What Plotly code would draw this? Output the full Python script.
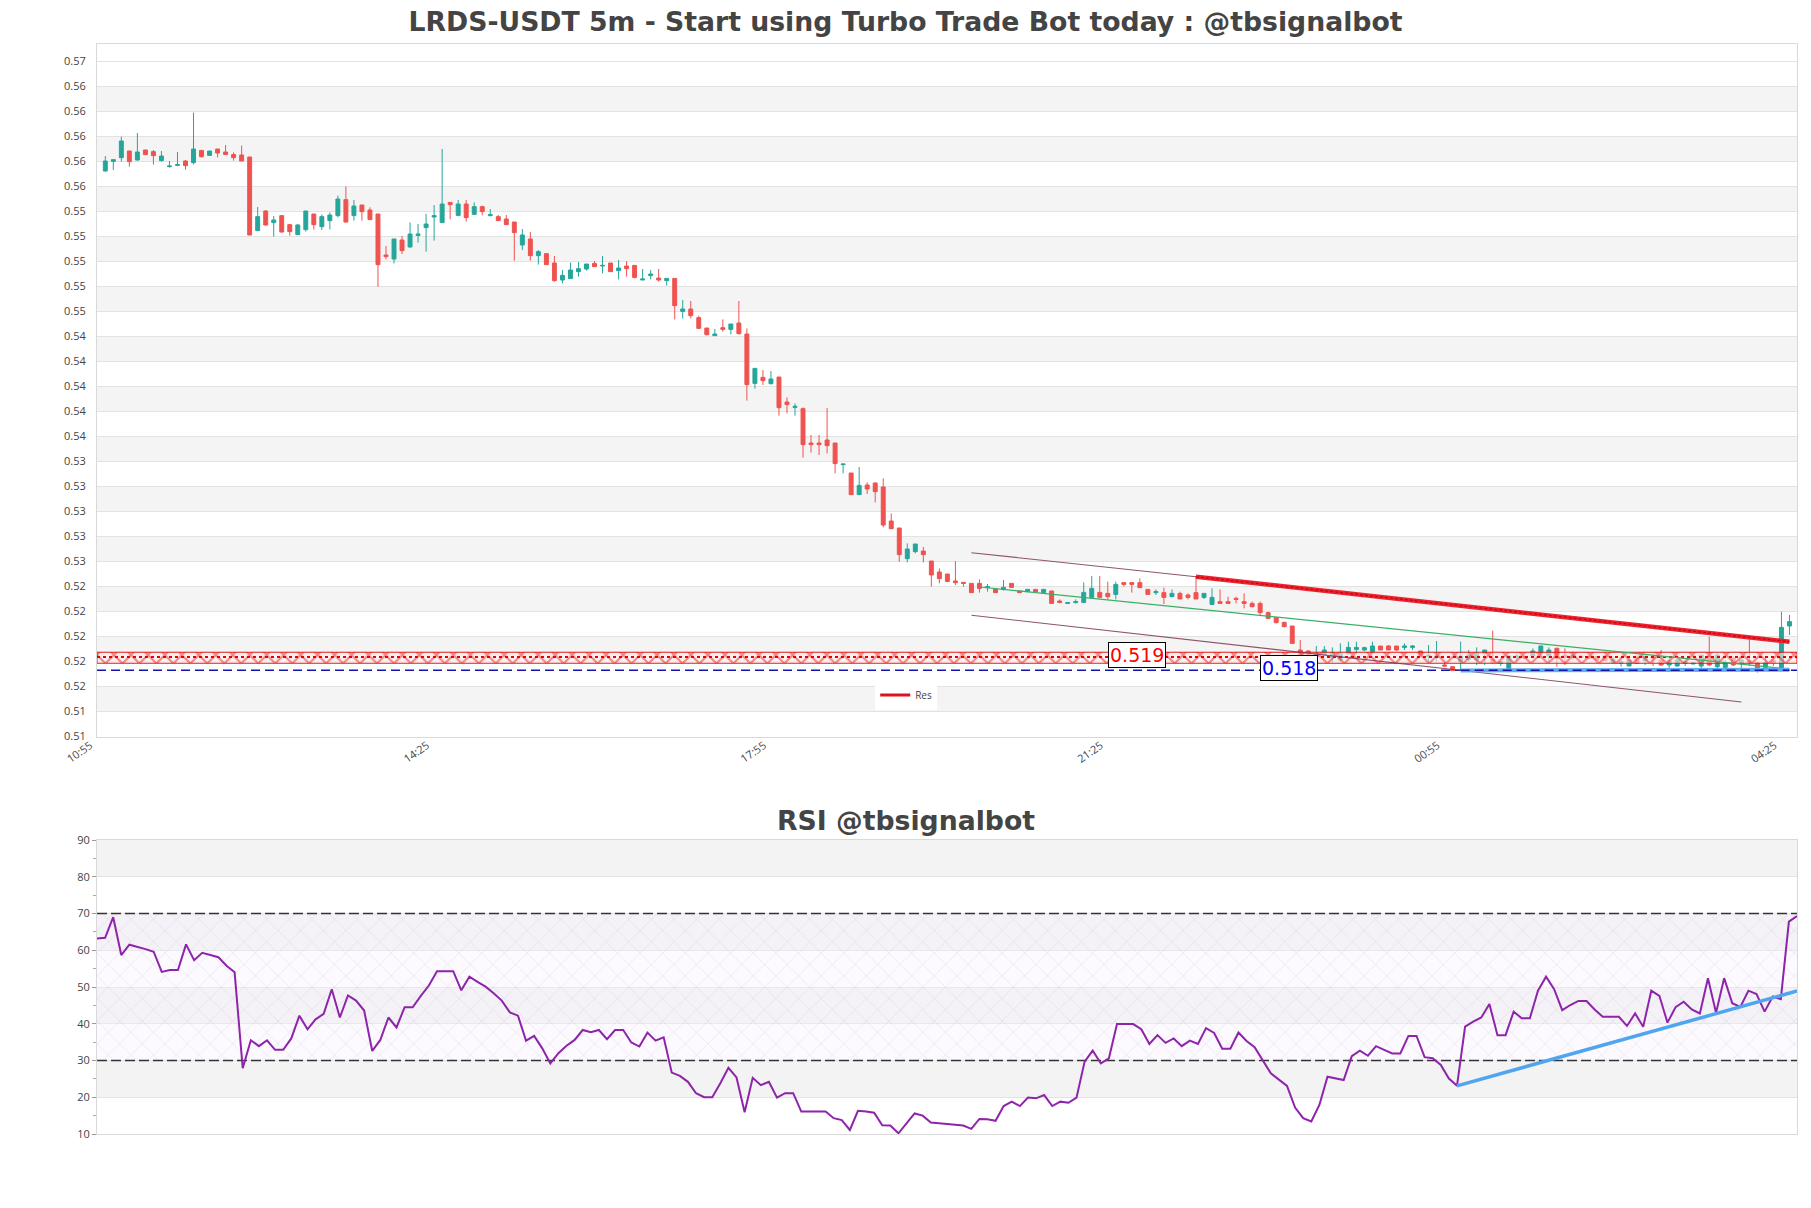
import pandas as pd
import plotly.graph_objects as go

# ---------------- data ----------------
start = pd.Timestamp("2024-05-20 10:55")
n_candles = 211
times = pd.date_range(start, periods=n_candles, freq="5min")

opens = [0.55808,0.55885,0.55915,0.55968,0.55896,0.55976,0.55963,0.55891,0.55843,0.55853,
0.55888,0.55875,0.55973,0.55933,0.55984,0.55960,0.55939,0.55936,0.55920,0.55331,
0.55488,0.55395,0.55451,0.55379,0.55299,0.55339,0.55464,0.55363,0.55411,0.55451,
0.55579,0.55451,0.55536,0.55496,0.55464,0.55136,0.55104,0.55256,0.55200,0.55293,
0.55355,0.55440,0.55395,0.55557,0.55453,0.55544,0.55461,0.55523,0.55451,0.55443,
0.55424,0.55400,0.55216,0.55264,0.55131,0.55147,0.55072,0.54936,0.54947,0.55003,
0.55024,0.55069,0.55048,0.55072,0.55011,0.55048,0.55053,0.54936,0.54971,0.54952,
0.54931,0.54949,0.54685,0.54704,0.54635,0.54552,0.54491,0.54555,0.54541,0.54592,
0.54504,0.54109,0.54157,0.54107,0.54160,0.53960,0.53917,0.53907,0.53632,0.53632,
0.53656,0.53632,0.53459,0.53392,0.53219,0.53296,0.53312,0.53280,0.53008,0.52952,
0.52707,0.52763,0.52768,0.52688,0.52600,0.52584,0.52528,0.52517,0.52509,0.52509,
0.52475,0.52464,0.52461,0.52509,0.52448,0.52443,0.52461,0.52435,0.52448,0.52368,
0.52349,0.52355,0.52357,0.52397,0.52437,0.52429,0.52421,0.52515,0.52515,0.52515,
0.52461,0.52435,0.52435,0.52403,0.52429,0.52416,0.52435,0.52397,0.52341,0.52363,
0.52363,0.52389,0.52363,0.52349,0.52349,0.52275,0.52235,0.52197,0.52168,0.51976,
0.51968,0.51928,0.51936,0.51917,0.51896,0.51949,0.51981,0.51976,0.51963,0.52008,
0.52008,0.52008,0.51997,0.51997,0.51968,0.51923,0.51917,0.51856,0.51843,0.51883,
0.51901,0.51896,0.51949,0.51901,0.51869,0.51829,0.51917,0.51923,0.51928,0.51955,
0.51928,0.51989,0.51936,0.51917,0.51928,0.51923,0.51923,0.51928,0.51875,0.51869,
0.51848,0.51917,0.51891,0.51923,0.51896,0.51856,0.51848,0.51869,0.51864,0.51848,
0.51923,0.51843,0.51837,0.51909,0.51869,0.51891,0.51875,0.51837,0.51891,0.51829,
0.52168]
highs = [0.55928,0.55901,0.56083,0.55968,0.56112,0.55976,0.55976,0.55968,0.55888,0.55960,
0.55896,0.56275,0.55973,0.55968,0.55984,0.56016,0.55957,0.56011,0.55920,0.55520,
0.55496,0.55448,0.55453,0.55379,0.55384,0.55488,0.55464,0.55461,0.55477,0.55611,
0.55685,0.55576,0.55536,0.55517,0.55464,0.55208,0.55264,0.55288,0.55397,0.55384,
0.55464,0.55536,0.55984,0.55557,0.55576,0.55576,0.55557,0.55531,0.55504,0.55456,
0.55456,0.55400,0.55344,0.55320,0.55176,0.55147,0.55128,0.55016,0.55075,0.55080,
0.55064,0.55088,0.55128,0.55072,0.55096,0.55088,0.55053,0.55024,0.55016,0.55024,
0.54949,0.54949,0.54776,0.54768,0.54651,0.54552,0.54544,0.54621,0.54584,0.54768,
0.54549,0.54229,0.54216,0.54208,0.54160,0.53997,0.53949,0.53917,0.53696,0.53696,
0.53912,0.53632,0.53464,0.53392,0.53440,0.53317,0.53317,0.53349,0.53069,0.52952,
0.52829,0.52824,0.52800,0.52688,0.52629,0.52584,0.52688,0.52517,0.52509,0.52541,
0.52504,0.52469,0.52536,0.52509,0.52448,0.52461,0.52461,0.52461,0.52448,0.52381,
0.52355,0.52381,0.52517,0.52568,0.52568,0.52523,0.52523,0.52515,0.52515,0.52549,
0.52461,0.52461,0.52475,0.52461,0.52443,0.52429,0.52568,0.52429,0.52469,0.52461,
0.52403,0.52403,0.52429,0.52363,0.52363,0.52283,0.52235,0.52203,0.52168,0.52056,
0.51976,0.52008,0.52008,0.51997,0.52029,0.52043,0.52043,0.52003,0.52043,0.52008,
0.52016,0.52008,0.52029,0.52016,0.51968,0.52016,0.52048,0.51883,0.51843,0.52043,
0.51976,0.51997,0.51976,0.52131,0.51883,0.51928,0.51949,0.51923,0.51989,0.52008,
0.51997,0.51997,0.51989,0.51963,0.51928,0.51923,0.51923,0.51936,0.51923,0.51901,
0.51917,0.51936,0.51936,0.51949,0.51976,0.51909,0.51901,0.51901,0.51875,0.51936,
0.52083,0.51949,0.51896,0.51923,0.51909,0.52083,0.51875,0.51923,0.51909,0.52283,
0.52256]
lows = [0.55803,0.55816,0.55883,0.55843,0.55891,0.55939,0.55859,0.55883,0.55835,0.55853,
0.55819,0.55861,0.55915,0.55933,0.55917,0.55939,0.55891,0.55888,0.55296,0.55331,
0.55371,0.55283,0.55315,0.55291,0.55299,0.55323,0.55339,0.55336,0.55341,0.55437,
0.55395,0.55411,0.55411,0.55419,0.54883,0.55101,0.55069,0.55144,0.55195,0.55235,
0.55163,0.55251,0.55395,0.55421,0.55445,0.55403,0.55459,0.55453,0.55445,0.55411,
0.55379,0.55091,0.55176,0.55091,0.55059,0.55059,0.54923,0.54909,0.54947,0.54963,
0.55011,0.55043,0.54989,0.55003,0.54941,0.54963,0.54949,0.54936,0.54941,0.54923,
0.54891,0.54621,0.54627,0.54629,0.54549,0.54491,0.54491,0.54523,0.54501,0.54501,
0.53971,0.54067,0.54096,0.54099,0.53851,0.53869,0.53851,0.53515,0.53555,0.53536,
0.53549,0.53389,0.53389,0.53219,0.53219,0.53224,0.53157,0.52957,0.52941,0.52683,
0.52677,0.52749,0.52677,0.52483,0.52509,0.52517,0.52496,0.52483,0.52435,0.52435,
0.52443,0.52435,0.52451,0.52477,0.52435,0.52443,0.52435,0.52435,0.52344,0.52349,
0.52349,0.52349,0.52357,0.52397,0.52389,0.52381,0.52381,0.52483,0.52435,0.52475,
0.52416,0.52416,0.52344,0.52397,0.52384,0.52381,0.52384,0.52384,0.52341,0.52349,
0.52349,0.52349,0.52309,0.52317,0.52256,0.52224,0.52189,0.52157,0.52024,0.51923,
0.51917,0.51883,0.51923,0.51875,0.51883,0.51936,0.51936,0.51968,0.51949,0.51976,
0.51976,0.51968,0.51976,0.51976,0.51936,0.51883,0.51883,0.51843,0.51811,0.51816,
0.51883,0.51856,0.51856,0.51869,0.51848,0.51829,0.51891,0.51909,0.51923,0.51909,
0.51883,0.51843,0.51856,0.51896,0.51917,0.51907,0.51896,0.51891,0.51864,0.51843,
0.51848,0.51864,0.51856,0.51848,0.51848,0.51829,0.51843,0.51848,0.51864,0.51829,
0.51848,0.51829,0.51829,0.51848,0.51829,0.51848,0.51795,0.51811,0.51848,0.51821,
0.52096]
closes = [0.55888,0.55899,0.56048,0.55883,0.55960,0.55939,0.55931,0.55928,0.55848,0.55859,
0.55851,0.55984,0.55923,0.55968,0.55952,0.55939,0.55915,0.55888,0.55296,0.55443,
0.55376,0.55416,0.55320,0.55323,0.55376,0.55488,0.55379,0.55443,0.55456,0.55584,
0.55400,0.55528,0.55483,0.55419,0.55059,0.55123,0.55264,0.55171,0.55304,0.55304,
0.55384,0.55451,0.55544,0.55539,0.55544,0.55435,0.55523,0.55483,0.55459,0.55411,
0.55379,0.55315,0.55296,0.55131,0.55163,0.55059,0.54931,0.54973,0.55016,0.55027,
0.55064,0.55043,0.55053,0.55003,0.55032,0.55027,0.54957,0.54944,0.54984,0.54936,
0.54949,0.54731,0.54704,0.54651,0.54549,0.54499,0.54504,0.54541,0.54584,0.54507,
0.54099,0.54229,0.54131,0.54144,0.53915,0.53939,0.53925,0.53619,0.53619,0.53619,
0.53611,0.53467,0.53464,0.53219,0.53293,0.53264,0.53243,0.52976,0.52947,0.52739,
0.52784,0.52824,0.52739,0.52576,0.52547,0.52525,0.52515,0.52509,0.52435,0.52469,
0.52483,0.52435,0.52477,0.52477,0.52435,0.52461,0.52443,0.52461,0.52349,0.52357,
0.52355,0.52363,0.52437,0.52469,0.52397,0.52403,0.52501,0.52501,0.52501,0.52475,
0.52421,0.52443,0.52397,0.52429,0.52384,0.52397,0.52384,0.52429,0.52397,0.52349,
0.52349,0.52381,0.52349,0.52323,0.52275,0.52229,0.52195,0.52163,0.52029,0.51923,
0.51923,0.51949,0.51976,0.51955,0.51949,0.51997,0.51997,0.51995,0.52008,0.51976,
0.51976,0.51976,0.52008,0.52008,0.51936,0.51936,0.51928,0.51848,0.51811,0.51928,
0.51936,0.51955,0.51976,0.51875,0.51883,0.51928,0.51928,0.51909,0.51968,0.52008,
0.51976,0.51909,0.51917,0.51936,0.51917,0.51907,0.51896,0.51891,0.51901,0.51883,
0.51896,0.51869,0.51923,0.51909,0.51856,0.51891,0.51896,0.51883,0.51875,0.51936,
0.51856,0.51936,0.51875,0.51856,0.51896,0.51875,0.51829,0.51875,0.51875,0.52157,
0.52203]

rsi = [63.2,63.4,69.0,58.7,61.5,61.0,60.3,59.6,54.1,54.6,
54.6,61.6,57.3,59.3,58.7,58.1,55.8,54.0,27.9,35.5,
33.9,35.5,32.9,32.9,36.0,42.2,38.5,41.2,42.7,49.4,
41.7,47.7,46.3,43.6,32.6,35.6,41.7,39.0,44.5,44.5,
47.6,50.4,54.3,54.3,54.3,49.1,52.8,51.4,50.1,48.3,
46.3,43.1,42.2,35.4,36.7,33.3,29.2,32.0,34.0,35.6,
38.3,37.7,38.3,35.8,38.3,38.3,34.9,33.8,37.6,35.4,
36.3,26.7,25.8,24.2,21.1,20.0,20.0,23.8,28.0,25.4,
15.9,25.3,23.3,24.2,19.9,21.1,21.1,16.1,16.1,16.1,
16.1,14.3,13.8,11.1,16.3,16.1,15.8,12.4,12.3,10.2,
12.9,15.6,15.0,13.1,12.9,12.7,12.4,12.3,11.4,14.1,
14.0,13.6,17.6,18.8,17.6,19.9,19.7,20.6,17.6,18.8,
18.5,19.9,29.7,32.7,29.2,30.6,39.9,39.9,39.9,38.5,
34.5,36.9,34.8,36.0,33.9,35.4,34.5,38.8,37.5,33.2,
33.2,37.6,35.3,33.6,29.9,26.5,24.8,23.1,17.2,14.3,
13.4,17.9,25.6,25.1,24.7,31.2,32.7,31.3,33.9,32.9,
31.9,31.9,36.7,36.7,30.9,30.6,28.8,25.1,23.1,39.2,
40.6,41.7,45.4,36.9,36.9,43.3,41.5,41.5,49.0,52.8,
49.4,43.7,45.1,46.2,46.2,43.9,41.9,41.9,41.9,39.4,
42.8,39.2,49.0,47.6,40.3,44.5,46.0,43.9,42.8,52.4,
43.0,52.4,45.6,44.6,49.0,48.1,43.3,47.4,46.7,67.8,
69.3]

# price axis ticks (labels shown with 2 decimals)
ytick0 = 0.56688
ydtick = 0.002
n_yticks = 28
price_range = [0.5128, 0.56824]
xtick_every = 42

# levels
res_level = 0.5192
res_band = [0.5187, 0.51958]
sup_level = 0.51814
res_label = "0.519"
sup_label = "0.518"

# trend lines: (start index, start value, end index, end value)
chan_upper = (108, 0.52754, 136, 0.52562)
chan_lower = (108, 0.52254, 204, 0.51560)
chan_mid = (109, 0.52480, 209, 0.51830)
res_trend = (136, 0.52562, 210, 0.52042)
sup_trend = (169, 0.51812, 210, 0.51818)
rsi_trend = (168, 23.1, 210, 48.9)
rsi_levels = [30, 70]

# ---------------- figure ----------------
FONT = "Open Sans"
TITLE_FONT = "DejaVu Sans"
step = pd.Timedelta(minutes=5)
x0 = times[0] - step * 1.035
x1 = times[-1] + step * 0.94

def tline(seg):
    i0, v0, i1, v1 = seg
    return [times[i0], times[i1]], [v0, v1]

fig = go.Figure()

# resistance band (hatched)
fig.add_trace(go.Scatter(
    x=[x0, x1, x1, x0, x0],
    y=[res_band[0], res_band[0], res_band[1], res_band[1], res_band[0]],
    mode="lines", fill="toself",
    line=dict(color="rgba(230,0,0,0.9)", width=1),
    fillcolor="rgba(255,225,225,0.5)",
    fillpattern=dict(shape="x", fgcolor="rgba(240,0,0,0.9)", bgcolor="rgba(255,235,235,0.6)",
                     size=12, solidity=0.3),
    showlegend=False, hoverinfo="skip", xaxis="x", yaxis="y"))
fig.add_trace(go.Scatter(x=[x0, x1], y=[res_level, res_level], mode="lines",
    line=dict(color="rgb(235,0,0)", width=2.2, dash="dot"),
    showlegend=False, hoverinfo="skip", xaxis="x", yaxis="y"))
fig.add_trace(go.Scatter(x=[x0, x1], y=[sup_level, sup_level], mode="lines",
    line=dict(color="rgb(20,20,170)", width=1.5, dash="9px,5px"),
    showlegend=False, hoverinfo="skip", xaxis="x", yaxis="y"))

fig.add_trace(go.Candlestick(
    x=times, open=opens, high=highs, low=lows, close=closes,
    increasing=dict(line=dict(color="#26a69a", width=1), fillcolor="#26a69a"),
    decreasing=dict(line=dict(color="#ef5350", width=1), fillcolor="#ef5350"),
    showlegend=False, xaxis="x", yaxis="y"))

for seg, col, w in [(chan_upper, "rgba(125,55,85,0.85)", 1.2),
                    (chan_lower, "rgba(125,55,85,0.85)", 1.2),
                    (chan_mid, "rgb(60,175,100)", 1.2),
                    (res_trend, "rgb(235,35,45)", 4.5),
                    (sup_trend, "rgb(95,170,240)", 4)]:
    xs, ys = tline(seg)
    fig.add_trace(go.Scatter(x=xs, y=ys, mode="lines", line=dict(color=col, width=w),
                             showlegend=False, hoverinfo="skip", xaxis="x", yaxis="y"))
# darker core of the resistance trend line
xs, ys = tline(res_trend)
fig.add_trace(go.Scatter(x=xs, y=ys, mode="lines",
    line=dict(color="rgb(200,0,20)", width=1.2, dash="3px,2px"),
    showlegend=False, hoverinfo="skip", xaxis="x", yaxis="y"))
# navy dashed drawn again over the support trend
fig.add_trace(go.Scatter(x=[times[sup_trend[0]], times[sup_trend[2]]], y=[sup_level, sup_level],
    mode="lines", line=dict(color="rgb(20,20,170)", width=1.5, dash="9px,5px"),
    showlegend=False, hoverinfo="skip", xaxis="x", yaxis="y"))

fig.add_trace(go.Scatter(x=[None], y=[None], mode="lines", name="Res",
    line=dict(color="rgb(220,20,30)", width=3), xaxis="x", yaxis="y"))

# RSI hatch zone
fig.add_trace(go.Scatter(x=[times[0], times[-1]], y=[rsi_levels[0]] * 2, mode="lines",
    line=dict(width=0), showlegend=False, hoverinfo="skip", xaxis="x2", yaxis="y2"))
fig.add_trace(go.Scatter(x=[times[0], times[-1]], y=[rsi_levels[1]] * 2, mode="lines",
    line=dict(width=0), fill="tonexty", fillcolor="rgba(0,0,0,0)",
    fillpattern=dict(shape="x", fgcolor="rgba(175,150,200,0.7)", bgcolor="rgba(245,240,250,0.35)",
                     size=16, solidity=0.06),
    showlegend=False, hoverinfo="skip", xaxis="x2", yaxis="y2"))
for lv in rsi_levels:
    fig.add_trace(go.Scatter(x=[times[0], times[-1]], y=[lv, lv], mode="lines",
        line=dict(color="#333", width=1.4, dash="10px,4px"),
        showlegend=False, hoverinfo="skip", xaxis="x2", yaxis="y2"))
fig.add_trace(go.Scatter(x=times, y=rsi, mode="lines",
    line=dict(color="rgb(142,36,170)", width=2),
    showlegend=False, xaxis="x2", yaxis="y2"))
xs, ys = tline(rsi_trend)
fig.add_trace(go.Scatter(x=xs, y=ys, mode="lines", line=dict(color="rgb(80,165,240)", width=3.5),
    showlegend=False, hoverinfo="skip", xaxis="x2", yaxis="y2"))

# alternating bands
yticks = [ytick0 - ydtick * i for i in range(n_yticks)]
shapes = []
for i in range(1, n_yticks - 1, 2):
    shapes.append(dict(type="rect", xref="x domain", yref="y", x0=0, x1=1,
                       y0=yticks[i + 1], y1=yticks[i], fillcolor="#f4f4f4",
                       line=dict(width=0), layer="below"))
for lo in [20, 40, 60, 80]:
    shapes.append(dict(type="rect", xref="x2 domain", yref="y2", x0=0, x1=1,
                       y0=lo, y1=lo + 10, fillcolor="#f3f3f3",
                       line=dict(width=0), layer="below"))

axis_line = "#d9d9d9"
grid = "#e3e3e3"
H = 1208
top, bot = 44, 74
plot_h = H - top - bot

def py(pixel_y):
    return (H - bot - pixel_y) / plot_h

fig.update_layout(
    width=1811, height=H,
    margin=dict(l=97, r=14, t=top, b=bot),
    paper_bgcolor="white", plot_bgcolor="white",
    font=dict(family=FONT, color="#444", size=11),
    shapes=shapes,
    title=dict(text="<b>LRDS-USDT 5m - Start using Turbo Trade Bot today : @tbsignalbot</b>",
               x=0.5, xanchor="center", y=1 - 22 / H, yanchor="middle",
               font=dict(family=TITLE_FONT, size=26.7, color="#444")),
    showlegend=True,
    legend=dict(x=0.476, y=py(695), xanchor="center", yanchor="middle",
                bgcolor="white", font=dict(size=10, color="#444")),
    xaxis=dict(domain=[0, 1], anchor="y", type="date", range=[x0, x1],
               tickvals=list(times[::xtick_every]),
               ticktext=[t.strftime("%H:%M") for t in times[::xtick_every]],
               tickangle=-35, ticklabelshift=-15, ticklabelstandoff=-3,
               tickfont=dict(size=11, color="#444"),
               showgrid=False, zeroline=False, showline=True, mirror=True,
               linecolor=axis_line, rangeslider=dict(visible=False)),
    yaxis=dict(domain=[py(737), 1], anchor="x", range=price_range,
               tick0=ytick0, dtick=ydtick, tickformat=".2f",
               tickfont=dict(size=11, color="#444"), ticklabelstandoff=8,
               showgrid=True, gridcolor=grid, zeroline=False,
               showline=True, mirror=True, linecolor=axis_line),
    xaxis2=dict(domain=[0, 1], anchor="y2", type="date", range=[times[0], times[-1]],
                showticklabels=False, showgrid=False, zeroline=False,
                showline=True, mirror=True, linecolor=axis_line),
    yaxis2=dict(domain=[0, py(840)], anchor="x2", range=[10, 90], dtick=10,
                ticks="outside", ticklen=4, tickcolor="#999",
                minor=dict(dtick=5, ticks="outside", ticklen=3, tickcolor="#aaa", showgrid=False),
                tickfont=dict(size=11, color="#444"),
                showgrid=True, gridcolor=grid, zeroline=False,
                showline=True, mirror=True, linecolor=axis_line),
)

fig.add_annotation(text="<b>RSI @tbsignalbot</b>", xref="paper", yref="paper",
                   x=(905.5 - 97) / 1700, y=py(820), xanchor="center", yanchor="middle",
                   showarrow=False, font=dict(family=TITLE_FONT, size=26.7, color="#444"))

lab_font = "DejaVu Sans"
fig.add_annotation(text=res_label, x=times[0] + step * 128.6, y=res_level, xref="x", yref="y",
                   showarrow=False, yshift=2, font=dict(family=lab_font, size=19, color="red"),
                   bgcolor="white", bordercolor="black", borderwidth=1, borderpad=1)
fig.add_annotation(text=sup_label, x=times[0] + step * 147.6, y=sup_level, xref="x", yref="y",
                   showarrow=False, yshift=2, font=dict(family=lab_font, size=19, color="blue"),
                   bgcolor="white", bordercolor="black", borderwidth=1, borderpad=1)

fig.write_html("out.html")
